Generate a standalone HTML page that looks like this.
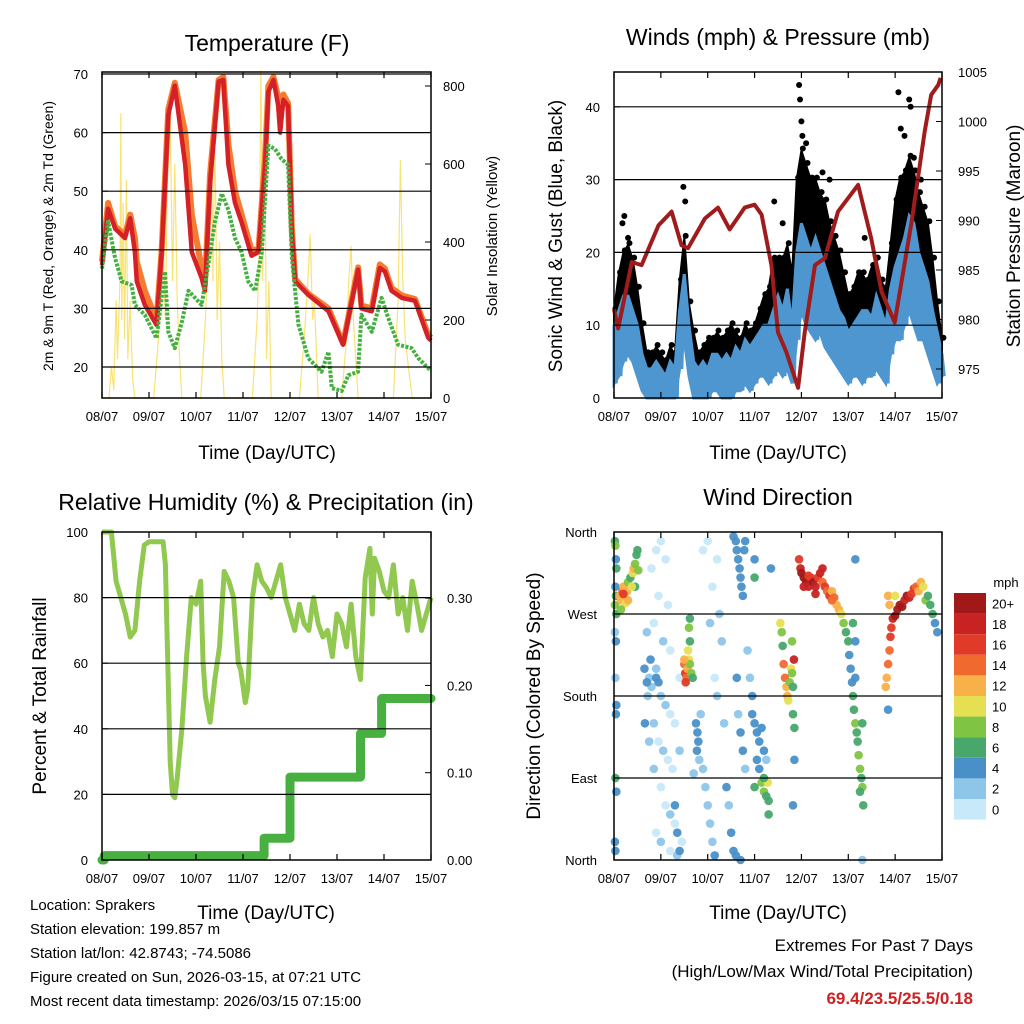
<!DOCTYPE html>
<html><head><meta charset="utf-8"><style>
html,body{margin:0;padding:0;background:#fff;}
svg{display:block;font-family:"Liberation Sans",sans-serif;}
</style></head><body>
<svg id="c" width="1024" height="1024" viewBox="0 0 1024 1024"></svg>
<script>
// ---------- DATA ----------
const dayLabels=["08/07","09/07","10/07","11/07","12/07","13/07","14/07","15/07"];
const tTime=[0,0.13,0.28,0.49,0.6,0.7,0.74,0.91,1.16,1.27,1.41,1.55,1.77,1.91,2.12,2.19,2.3,2.48,2.58,2.69,2.83,2.97,3.18,3.33,3.47,3.54,3.65,3.75,3.79,3.86,3.96,4.04,4.11,4.39,4.82,5.13,5.45,5.52,5.74,5.91,6.02,6.16,6.38,6.66,6.94,7.0];
const tRed=[37.4,47,43.6,42,45.4,39.6,34.6,30.6,27.2,39.6,63,68,54.5,39.6,35.2,33,51.6,68.7,69,54.5,48,44.7,39,39.6,54.5,67,69,64.5,60,65.6,64.5,43,34.6,32.3,29.5,23.8,36.6,30,29.5,36.9,36.3,33,31.8,31.3,25,24.5];
const tOrange=[38,48,44,42.5,46,42,38,33,28,40,64,68.5,60,46,37,34,53,69,69.5,58,50,46,40,40,56,68,69.5,66,62,66.5,65,43.5,35,32.5,30,24,37,30.5,30,37.5,36.8,33.5,32.2,31.6,25.5,25];
const tdTime=[0,0.13,0.28,0.42,0.63,0.7,0.91,1.16,1.34,1.41,1.55,1.7,1.84,1.98,2.12,2.26,2.4,2.55,2.69,2.83,2.97,3.11,3.26,3.4,3.54,3.68,3.82,3.96,4.04,4.18,4.39,4.67,4.82,4.89,5.1,5.24,5.45,5.52,5.74,5.95,6.09,6.3,6.59,6.73,6.94,7.0];
const tdVal=[36.8,44.8,38.5,34.6,34,30.6,28.9,24.9,36.3,26,23.2,27.7,33,31.8,30.6,37.4,44.7,49.6,46.8,42,39.6,34.6,33,39.6,57.8,57.2,55.5,54.5,38.5,27.2,21.5,19.2,22.6,16.4,15.9,18.6,19.2,28.9,26,31.8,28.4,23.8,23.2,21.5,19.8,19.5];
const solTime=[0,0.15,0.2,0.25,0.3,0.33,0.38,0.4,0.42,0.45,0.48,0.52,0.55,0.6,0.65,0.7,1.1,1.2,1.3,1.35,1.4,1.45,1.5,1.55,1.6,1.65,1.7,2.1,2.2,2.3,2.33,2.36,2.4,2.45,2.5,2.55,2.6,3.2,3.3,3.35,3.38,3.42,3.46,3.5,3.55,3.6,4.2,4.3,4.38,4.43,4.48,4.52,4.6,5.1,5.2,5.25,5.3,5.35,5.4,5.45,6.2,6.3,6.35,6.4,6.45,6.55,6.6,7.0];
const solVal=[0,0,80,20,250,100,300,730,200,500,150,560,100,250,50,0,0,150,400,200,650,730,300,600,250,100,0,0,200,500,650,300,680,200,400,100,0,0,200,400,840,300,700,100,300,0,0,150,300,420,200,250,0,0,150,300,390,200,100,0,0,250,610,300,150,50,0,0];
// wind (mph) at 0.1-day steps
const windLo=[2,3,5,6,5,3,1,0,0,0,0,0,0,0,4,8,3,0,0,0,0,1,1,0,0,0,1,1,2,1,2,3,3,2,3,4,3,4,2,8,12,10,9,8,9,7,6,5,4,3,2,3,3,2,3,3,4,3,2,6,8,8,10,12,10,8,8,6,4,2,3];
const windHi=[10,12,14,14,12,10,6,4,4,5,4,3,5,4,12,17,10,5,4,5,4,6,6,5,6,5,7,6,8,7,8,9,10,10,12,14,12,15,10,20,24,22,20,22,20,18,16,14,12,11,9,10,11,12,12,11,14,12,10,15,18,20,22,25,24,20,18,16,12,9,6];
const gustLo=[5,8,12,14,12,8,4,2,3,3,2,2,3,2,8,14,6,3,2,2,2,3,3,2,3,2,3,3,4,4,5,6,7,6,8,8,8,10,6,18,20,18,18,16,16,14,12,10,8,7,5,6,7,6,7,8,8,7,6,12,15,16,20,22,20,16,15,12,9,5,4];
const gustHi=[12,17,20,21,19,15,10,6,6,7,6,5,7,6,16,22,13,9,6,7,8,8,9,8,9,10,9,8,10,9,10,12,14,15,19,19,19,21,17,30,34,32,30,30,28,27,24,22,20,17,14,15,17,17,16,18,19,16,15,21,27,30,31,33,31,28,26,24,19,13,8];
const peakTime=[0.18,0.22,0.3,1.48,1.52,3.42,3.6,3.95,3.97,4.0,4.02,4.1,4.45,4.6,5.35,6.07,6.12,6.2,6.3,6.33,6.4,6.55];
const peakVal=[24,25,22,29,27,27,24,43,41,38,36,35,31,30,22,42,37,36,41,40,33,30];
const presTime=[0,0.09,0.38,0.59,0.95,1.23,1.44,1.58,1.94,2.22,2.47,2.79,3.0,3.15,3.36,3.5,3.68,3.93,4.07,4.29,4.5,4.78,5.21,5.49,5.71,5.99,6.35,6.63,6.77,6.92,6.97];
const presVal=[981,979.1,985.8,985.5,989.5,990.9,987.5,987.2,990.2,991.3,989.1,991.3,991.6,990.6,985.5,978.7,976.7,973.1,978.7,985.5,986.2,990.9,993.6,988.2,982.8,979.7,989.8,999,1002.7,1003.7,1004.4];
// RH and precipitation
const rhTime=[0,0.2,0.3,0.4,0.5,0.6,0.7,0.8,0.9,1.0,1.2,1.3,1.35,1.4,1.45,1.5,1.55,1.6,1.7,1.8,1.9,2.0,2.1,2.15,2.2,2.3,2.4,2.5,2.6,2.7,2.8,2.9,2.95,3.0,3.05,3.1,3.2,3.3,3.4,3.5,3.6,3.7,3.8,3.9,4.0,4.1,4.2,4.3,4.4,4.5,4.6,4.7,4.8,4.9,5.0,5.1,5.2,5.3,5.4,5.5,5.6,5.7,5.75,5.8,5.9,6.0,6.1,6.2,6.3,6.4,6.5,6.6,6.7,6.8,6.9,7.0];
const rhVal=[100,100,85,80,75,68,70,85,96,97,97,97,90,60,30,20,19,25,40,62,80,78,85,60,50,42,55,65,88,85,80,60,58,53,48,52,80,90,85,83,80,85,90,80,75,70,78,72,70,80,72,68,70,62,75,72,65,78,62,55,86,95,75,92,88,82,80,90,75,80,70,85,78,70,75,80];
const prTime=[0,0.05,3.4,3.45,3.6,3.9,4.0,5.4,5.5,5.6,5.85,5.95,7.0];
const prVal=[0,0.005,0.005,0.025,0.025,0.025,0.095,0.095,0.145,0.145,0.145,0.185,0.185];
// wind direction observations [day, degrees, mph]
const dirObs=[[0.02,350,6],[0.03,345,8],[0.04,330,4],[0.05,320,6],[0.03,300,4],[0.04,290,6],[0.02,280,8],[0.05,270,6],[0.02,250,2],[0.04,240,4],[0.03,200,2],[0.05,170,4],[0.04,160,4],[0.03,90,6],[0.05,75,4],[0.02,20,4],[0.03,10,4],
[0.12,290,12],[0.15,285,12],[0.18,295,14],[0.2,300,12],[0.22,288,12],[0.25,282,10],[0.28,295,12],[0.3,305,8],[0.35,310,6],[0.4,315,10],[0.42,320,12],[0.45,325,8],[0.48,335,6],[0.5,340,6],[0.52,318,8],[0.45,300,6],[0.38,300,10],[0.15,275,8],[0.3,285,12],[0.2,292,16],
[0.8,320,0],[0.9,340,0],[1.0,350,0],[1.1,330,0],[0.95,290,0],[1.15,280,0],[0.85,260,0],[1.05,240,2],[0.7,250,2],[1.2,230,0],[0.75,200,2],[0.8,190,2],[0.9,210,2],[1.0,180,2],[1.1,170,2],[1.2,160,0],[1.3,150,0],[0.85,150,2],[0.95,130,0],[1.05,120,2],[1.15,110,0],[1.25,100,0],[0.85,100,2],[1.0,80,0],[1.1,60,0],[1.2,50,2],[1.3,40,0],[0.9,30,0],[1.0,20,2],[1.2,10,0],[1.35,5,2],[1.45,20,0],[1.4,120,2],[1.4,200,0],
[0.65,210,4],[0.7,195,4],[0.72,180,2],[0.66,150,4],[0.75,130,2],[0.78,220,4],[0.9,200,4],[0.95,195,4],[1.3,60,4],[1.35,30,4],[1.4,10,4],
[1.5,215,14],[1.52,205,16],[1.55,200,14],[1.57,210,12],[1.6,220,10],[1.62,215,8],[1.65,205,8],[1.68,200,6],[1.62,240,6],[1.6,255,8],[1.62,265,6],[1.58,230,10],[1.53,195,16],[1.5,220,12],
[1.75,150,4],[1.78,140,4],[1.8,130,4],[1.77,120,4],[1.82,110,2],[1.85,160,2],[1.9,100,2],[1.95,80,2],[2.0,60,2],[2.05,40,2],[2.1,20,2],[2.15,5,4],[1.7,95,2],[2.2,180,2],[2.15,200,0],[2.05,260,2],[2.2,330,0],[2.0,350,0],[1.9,340,0],[2.1,300,0],[2.25,270,2],[2.3,240,2],[2.35,150,2],[2.4,80,4],[2.45,60,2],[2.5,30,4],[2.55,10,4],[2.6,5,4],[2.7,0,4],
[2.55,355,4],[2.6,350,4],[2.62,340,4],[2.65,330,4],[2.68,320,4],[2.7,310,4],[2.72,300,4],[2.75,290,4],[2.8,350,4],[2.78,340,4],[2.62,200,4],[2.65,160,2],[2.7,140,4],[2.75,120,4],[2.8,100,2],[2.85,230,2],[2.9,200,2],[2.95,180,4],[2.95,160,4],
[3.0,150,4],[3.05,140,4],[3.1,130,4],[3.15,145,4],[3.2,120,4],[3.25,110,2],[3.05,110,4],[3.1,100,4],[3.0,80,6],[3.15,85,8],[3.2,75,8],[3.25,70,6],[3.3,65,6],[3.3,50,6],[3.28,85,10],[3.2,90,6],[3.0,330,4],[3.0,310,6],[3.35,320,4],
[3.55,260,10],[3.58,250,8],[3.6,235,6],[3.62,215,14],[3.65,200,14],[3.68,190,12],[3.7,180,12],[3.72,175,10],[3.75,195,8],[3.78,210,10],[3.8,205,8],[3.82,190,6],[3.84,220,18],[3.8,240,8],[3.82,160,6],[3.85,145,6],[3.85,110,4],[3.82,60,4],
[3.95,330,16],[3.98,320,18],[4.0,315,20],[4.05,310,20],[4.1,305,20],[4.15,300,18],[4.2,310,16],[4.25,305,20],[4.3,300,18],[4.35,310,16],[4.4,315,18],[4.45,305,14],[4.5,300,16],[4.55,295,14],[4.6,290,16],[4.65,295,12],[4.7,288,14],[4.75,280,12],[4.8,275,12],[4.05,300,18],[4.15,312,16],[4.3,292,18],[4.45,320,18],[4.65,285,14],[4.85,270,10],[4.9,260,8],[4.95,250,6],[5.0,240,6],[5.02,225,4],[5.05,210,4],[5.08,195,4],[5.1,180,6],[5.12,165,6],[5.15,150,8],[5.18,140,6],[5.2,130,6],[5.22,115,8],[5.25,100,8],[5.28,90,6],[5.3,80,8],[5.25,75,6],[5.32,60,6],[5.1,260,6],[5.15,240,4],[5.15,330,4],[5.3,150,6],[5.3,0,2],[5.85,165,4],[5.15,200,4],
[5.8,190,12],[5.82,200,12],[5.85,215,14],[5.88,230,14],[5.9,245,16],[5.92,255,16],[5.95,265,18],[6.0,268,20],[6.05,275,20],[6.1,280,20],[6.15,278,20],[6.2,285,18],[6.25,290,20],[6.3,288,18],[6.35,292,16],[6.4,298,16],[6.45,300,14],[6.5,295,12],[6.55,305,12],[6.6,300,10],[6.65,285,8],[6.7,290,6],[6.75,280,6],[6.8,270,6],[6.85,260,4],[6.9,250,4],[5.85,290,12],[5.88,280,12],[6.0,290,10]];
const spdColors=["#c8e9f9","#8ec6ea","#4a90c8","#48a86c","#80c444","#e6df52","#f8b048","#f06a30","#e03a28","#c82222","#a01818"];
const spdLabels=["0","2","4","6","8","10","12","14","16","18","20+"];

// ---------- HELPERS ----------
const S=document.getElementById('c');const NS="http://www.w3.org/2000/svg";
function el(tag,attrs,parent){const e=document.createElementNS(NS,tag);for(const k in attrs)e.setAttribute(k,attrs[k]);(parent||S).appendChild(e);return e;}
function txt(x,y,s,size,anchor,extra){const e=el('text',Object.assign({x:x,y:y,'font-size':size,'text-anchor':anchor||'middle',fill:'#000'},extra||{}));e.textContent=s;return e;}
function pts(xs,ys){return xs.map((x,i)=>x.toFixed(1)+","+ys[i].toFixed(1)).join(" ");}

function frame(x0,x1,y0,y1,name){
  const r=el('rect',{x:x0,y:y0,width:x1-x0,height:y1-y0,fill:'none',stroke:'#000','stroke-width':1.5});
  
}
function xAxis(x0,x1,y0,y1,name){
  const g=el('g',{});
  for(let i=0;i<=7;i++){const x=x0+i*(x1-x0)/7;
    el('line',{x1:x,x2:x,y1:y1,y2:y1-6,stroke:'#000','stroke-width':1.2},g);
    el('line',{x1:x,x2:x,y1:y0,y2:y0+6,stroke:'#000','stroke-width':1.2},g);
    const t=txt(x,y1+23,dayLabels[i],13,'middle');g.appendChild(t);}
}
function hgrid(x0,x1,ys,name){const g=el('g',{});
  ys.forEach(y=>el('line',{x1:x0,x2:x1,y1:y,y2:y,stroke:'#000','stroke-width':1.2},g));}

// ================= PANEL 1 : TEMPERATURE =================
{const x0=102,x1=431,y0=72,y1=398;const sx=t=>x0+t*(x1-x0)/7;const yT=v=>367-(v-20)*5.86;const yS=v=>398-v*0.39;
 const g=el('g',{});
 hgrid(x0,x1,[20,30,40,50,60,70].map(yT),'temperature');
 const sol=el('polyline',{points:pts(solTime.map(sx),solVal.map(yS)),fill:'none',stroke:'#f8de5a','stroke-width':1.2,opacity:0.85},g);
 
 const o=el('polyline',{points:pts(tTime.map(sx),tOrange.map(yT)),fill:'none',stroke:'#f47c30','stroke-width':6,'stroke-linejoin':'round'},g);
 
 const r=el('polyline',{points:pts(tTime.map(sx),tRed.map(yT)),fill:'none',stroke:'#d42026','stroke-width':4.5,'stroke-linejoin':'round'},g);
 
 const d=el('polyline',{points:pts(tdTime.map(sx),tdVal.map(yT)),fill:'none',stroke:'#44b040','stroke-width':4,'stroke-dasharray':'3 1.5','stroke-linejoin':'round'},g);
 
 frame(x0,x1,y0,y1,'temperature');xAxis(x0,x1,y0,y1,'temperature');
 [20,30,40,50,60,70].forEach(v=>{el('line',{x1:x0,x2:x0+6,y1:yT(v),y2:yT(v),stroke:'#000'});txt(x0-14,yT(v)+5,String(v),13,'end');});
 [0,200,400,600,800].forEach(v=>{el('line',{x1:x1,x2:x1-6,y1:yS(v),y2:yS(v),stroke:'#000'});txt(x1+12,yS(v)+5,String(v),13,'start');});
 const t=txt(267,51,'Temperature (F)',23);
 const xl=txt(267,459,'Time (Day/UTC)',19);
 const yl=txt(0,0,'2m & 9m T (Red, Orange) & 2m Td (Green)',14,'middle',{transform:'translate(53,236) rotate(-90)'});
 const yr=txt(0,0,'Solar Insolation (Yellow)',15,'middle',{transform:'translate(497,236) rotate(-90)'});
}

// ================= PANEL 2 : WINDS & PRESSURE =================
{const x0=614,x1=942,y0=72,y1=398;const sx=t=>x0+t*(x1-x0)/7;const yW=v=>398-v*7.28;const yP=p=>369-(p-975)*9.9;
 const g=el('g',{});
 hgrid(x0,x1,[10,20,30,40].map(yW),'winds');
 const gt=windLo.map((_,i)=>i*0.1);
 const bandPts=gt.map((t,i)=>sx(t).toFixed(1)+","+yW(gustHi[i]).toFixed(1)).concat(gt.slice().reverse().map((t,j)=>{const i=gt.length-1-j;return sx(t).toFixed(1)+","+yW(gustLo[i]).toFixed(1);})).join(" ");
 const band=el('polygon',{points:bandPts,fill:'#000',stroke:'#000','stroke-width':2,'stroke-linejoin':'round'},g);
 
 gt.forEach((t,i)=>{const c=el('circle',{cx:sx(t+0.03),cy:yW(gustHi[i])-2,r:3,fill:'#000'},g);
   });
 peakTime.forEach((t,i)=>{const c=el('circle',{cx:sx(t),cy:yW(peakVal[i]),r:3,fill:'#000'},g);
   });
 const wx=[],wy=[];gt.forEach((t,i)=>{wx.push(sx(t));wy.push(yW(windHi[i]));wx.push(sx(t+0.05));wy.push(yW(windLo[i]));});
 const wb=gt.map((t,i)=>sx(t).toFixed(1)+","+yW(windHi[i]).toFixed(1)).concat(gt.slice().reverse().map((t,j)=>{const i=gt.length-1-j;return sx(t).toFixed(1)+","+yW(windLo[i]).toFixed(1);})).join(" ");
 const wband=el('polygon',{points:wb,fill:'#4e96d0',stroke:'#4e96d0','stroke-width':3},g);
 
 const wl=el('polyline',{points:pts(wx,wy),fill:'none',stroke:'#4e96d0','stroke-width':3},g);
 
 const pl=el('polyline',{points:pts(presTime.map(sx),presVal.map(yP)),fill:'none',stroke:'#a01c1c','stroke-width':4,'stroke-linejoin':'round'},g);
 
 frame(x0,x1,y0,y1,'winds');xAxis(x0,x1,y0,y1,'winds');
 [0,10,20,30,40].forEach(v=>{el('line',{x1:x0,x2:x0+6,y1:yW(v),y2:yW(v),stroke:'#000'});txt(x0-14,yW(v)+5,String(v),13,'end');});
 [975,980,985,990,995,1000,1005].forEach(v=>{el('line',{x1:x1,x2:x1-6,y1:yP(v),y2:yP(v),stroke:'#000'});txt(x1+16,yP(v)+5,String(v),13,'start');});
 const t=txt(778,45,'Winds (mph) & Pressure (mb)',23);
 const xl=txt(778,459,'Time (Day/UTC)',19);
 const yl=txt(0,0,'Sonic Wind & Gust (Blue, Black)',19,'middle',{transform:'translate(562,236) rotate(-90)'});
 const yr=txt(0,0,'Station Pressure (Maroon)',19,'middle',{transform:'translate(1020,236) rotate(-90)'});
}

// ================= PANEL 3 : RH & PRECIP =================
{const x0=102,x1=431,y0=532,y1=860;const sx=t=>x0+t*(x1-x0)/7;const yR=v=>860-v*3.28;const yPr=v=>860-v*873;
 const g=el('g',{});
 hgrid(x0,x1,[20,40,60,80].map(yR),'humidity');
 const rl=el('polyline',{points:pts(rhTime.map(sx),rhVal.map(yR)),fill:'none',stroke:'#90c850','stroke-width':5,'stroke-linejoin':'round'},g);
 
 const pxs=[],pys=[];prTime.forEach((t,i)=>{if(i>0){pxs.push(sx(t));pys.push(yPr(prVal[i-1]));}pxs.push(sx(t));pys.push(yPr(prVal[i]));});
 const pr=el('polyline',{points:pts(pxs,pys),fill:'none',stroke:'#48b040','stroke-width':9,'stroke-linecap':'round','stroke-linejoin':'round'},g);
 
 frame(x0,x1,y0,y1,'humidity');xAxis(x0,x1,y0,y1,'humidity');
 [0,20,40,60,80,100].forEach(v=>{el('line',{x1:x0,x2:x0+6,y1:yR(v),y2:yR(v),stroke:'#000'});txt(x0-14,yR(v)+5,String(v),13,'end');});
 [0,0.1,0.2,0.3].forEach(v=>{el('line',{x1:x1,x2:x1-6,y1:yPr(v),y2:yPr(v),stroke:'#000'});txt(x1+16,yPr(v)+5,v.toFixed(2),13,'start');});
 const t=txt(266,510,'Relative Humidity (%) & Precipitation (in)',23);
 const xl=txt(266,919,'Time (Day/UTC)',19);
 const yl=txt(0,0,'Percent & Total Rainfall',19,'middle',{transform:'translate(46,696) rotate(-90)'});
}

// ================= PANEL 4 : WIND DIRECTION =================
{const x0=614,x1=942,y0=532,y1=860;const sx=t=>x0+t*(x1-x0)/7;const yD=d=>860-d*328/360;
 const g=el('g',{});
 hgrid(x0,x1,[90,180,270].map(yD),'wind-direction');
 dirObs.forEach(o=>{const idx=Math.min(10,Math.floor((o[2]+1)/2));
   const c=el('circle',{cx:sx(o[0]),cy:yD(o[1]),r:4.3,fill:spdColors[idx],opacity:0.95},g);
   });
 frame(x0,x1,y0,y1,'wind-direction');xAxis(x0,x1,y0,y1,'wind-direction');
 [["North",0],["East",90],["South",180],["West",270],["North",360]].forEach(a=>{el('line',{x1:x0,x2:x0+6,y1:yD(a[1]),y2:yD(a[1]),stroke:'#000'});txt(x0-17,yD(a[1])+5,a[0],13,'end');});
 const t=txt(778,505,'Wind Direction',23);
 const xl=txt(778,919,'Time (Day/UTC)',19);
 const yl=txt(0,0,'Direction (Colored By Speed)',19,'middle',{transform:'translate(540,696) rotate(-90)'});
 const cb=el('g',{});
 const top=593,h=20.6;
 for(let i=0;i<11;i++){const k=10-i;const rr=el('rect',{x:954,y:top+i*h,width:32,height:h,fill:spdColors[k]},cb);
   
   txt(992,top+i*h+h/2+5,spdLabels[k],13,'start');}
 const u=txt(1006,587,'mph',13);
}

// ================= FOOTER =================
{const lines=["Location: Sprakers","Station elevation: 199.857 m","Station lat/lon: 42.8743; -74.5086","Figure created on Sun, 2026-03-15, at 07:21 UTC","Most recent data timestamp: 2026/03/15 07:15:00"];
 lines.forEach((s,i)=>{const t=txt(30,910+i*24,s,15,'start');});
 const a=txt(973,951,'Extremes For Past 7 Days',17,'end');
 const b=txt(973,977,'(High/Low/Max Wind/Total Precipitation)',17,'end');
 const c=txt(973,1004,'69.4/23.5/25.5/0.18',17,'end',{fill:'#cc2222','font-weight':'bold'});
}
</script>
</body></html>
